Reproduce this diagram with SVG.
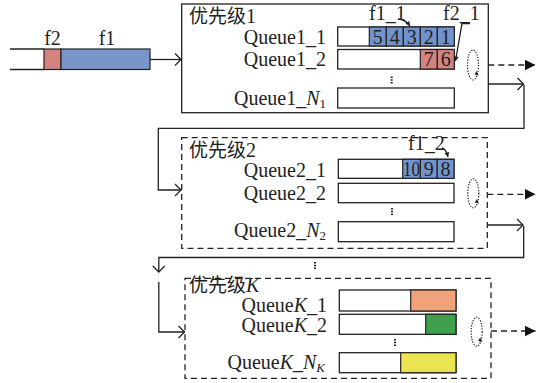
<svg xmlns="http://www.w3.org/2000/svg" width="536" height="383" viewBox="0 0 536 383">
<defs>
<style>
.ln{fill:none;stroke:#222;stroke-width:1.3}
.box{fill:#fff;stroke:#222;stroke-width:1.3}
.dbox{fill:none;stroke:#222;stroke-width:1.3;stroke-dasharray:6 4}
.dash{fill:none;stroke:#222;stroke-width:1.3;stroke-dasharray:6 4}
.dot{fill:none;stroke:#222;stroke-width:1.2;stroke-dasharray:1.3 1.4}
.vd{fill:none;stroke:#222;stroke-width:2;stroke-dasharray:1.5 1.3}
.t{font-family:'Liberation Serif','Times New Roman','DejaVu Serif',serif;font-size:20px;fill:#222}
.cn{font-family:'Noto Sans CJK SC',sans-serif;font-size:19px;fill:#222}
.num{font-family:'Liberation Serif','Times New Roman',serif;font-size:20px;fill:#222;text-anchor:middle}
.blue{fill:#7393cc;stroke:#222;stroke-width:1.2}
.red{fill:#d4837f;stroke:#222;stroke-width:1.2}
</style>
<marker id="open" markerUnits="userSpaceOnUse" markerWidth="12" markerHeight="14" viewBox="-7 -7 8 14" refX="0" refY="0" orient="auto">
<path d="M-6,-6 L0,0 L-6,6" fill="none" stroke="#222" stroke-width="1.3"/>
</marker>
<marker id="tri" markerUnits="userSpaceOnUse" markerWidth="12" markerHeight="12" viewBox="-11 -6 12 12" refX="0" refY="0" orient="auto">
<path d="M-11,-5.5 L0,0 L-11,5.5 Z" fill="#111"/>
</marker>
<marker id="sm" markerUnits="userSpaceOnUse" markerWidth="6" markerHeight="6" viewBox="-5 -3 6 6" refX="0" refY="0" orient="auto">
<path d="M-4.5,-2.5 L0,0 L-4.5,2.5 Z" fill="#222"/>
</marker>
</defs>

<g id="input">
<rect x="44" y="49" width="17" height="20.5" fill="#d4837f" stroke="#222" stroke-width="1.2"/>
<rect x="61" y="49" width="89" height="20.5" fill="#7896ca" stroke="#222" stroke-width="1.2"/>
<path class="ln" d="M10,49 H44 M10,69.5 H44"/>
<text class="t" x="52.5" y="45" text-anchor="middle">f2</text>
<text class="t" x="107" y="45" text-anchor="middle">f1</text>
</g>

<g id="priority1">
<rect class="box" x="181.7" y="4" width="306.6" height="108.7"/>
<text class="cn" x="189" y="23">优先级</text>
<text class="t" x="246" y="23">1</text>
<text class="t" x="326" y="44" text-anchor="end">Queue1_1</text>
<text class="t" x="326" y="66" text-anchor="end">Queue1_2</text>
<text class="t" x="326" y="105" text-anchor="end">Queue1_<tspan font-style="italic">N</tspan><tspan font-size="13" dy="3">1</tspan></text>
<rect class="box" x="337.7" y="27" width="116.6" height="19"/>
<rect class="blue" x="369.3" y="27" width="17" height="19"/>
<rect class="blue" x="386.3" y="27" width="17" height="19"/>
<rect class="blue" x="403.3" y="27" width="17" height="19"/>
<rect class="blue" x="420.3" y="27" width="17" height="19"/>
<rect class="blue" x="437.3" y="27" width="17" height="19"/>
<text class="num" x="377.8" y="43.5">5</text>
<text class="num" x="394.8" y="43.5">4</text>
<text class="num" x="411.8" y="43.5">3</text>
<text class="num" x="428.8" y="43.5">2</text>
<text class="num" x="445.8" y="43.5">1</text>
<rect class="box" x="337.7" y="49.5" width="116.6" height="19.5"/>
<rect class="red" x="420.3" y="49.5" width="17" height="19.5"/>
<rect class="red" x="437.3" y="49.5" width="17" height="19.5"/>
<text class="num" x="428.8" y="66">7</text>
<text class="num" x="445.8" y="66">6</text>
<line class="vd" x1="391.7" y1="76.5" x2="391.7" y2="84"/>
<rect class="box" x="337.7" y="88" width="116.6" height="20"/>
<text class="t" x="369" y="20">f1_1</text>
<text class="t" x="443" y="20">f2_1</text>
<path class="ln" d="M398,19 Q405,19 410,26" marker-end="url(#sm)"/>
<path class="ln" d="M470,23.5 H462 L455.5,61" marker-end="url(#sm)"/>
<ellipse class="dot" cx="473" cy="65" rx="5.5" ry="15"/>
<path d="M476.5,71 L478.8,75.5 L474.5,74.5 Z" fill="#222"/>
</g>

<g id="priority2">
<rect class="dbox" x="181.7" y="137.7" width="305.6" height="110.6"/>
<text class="cn" x="189" y="156.5">优先级</text>
<text class="t" x="246" y="156.5">2</text>
<text class="t" x="326" y="177" text-anchor="end">Queue2_1</text>
<text class="t" x="326" y="200" text-anchor="end">Queue2_2</text>
<text class="t" x="326" y="237" text-anchor="end">Queue2_<tspan font-style="italic">N</tspan><tspan font-size="13" dy="3">2</tspan></text>
<rect class="box" x="338.3" y="159.3" width="115.7" height="19"/>
<rect class="blue" x="402.7" y="159.3" width="17.7" height="19"/>
<rect class="blue" x="420.4" y="159.3" width="16.8" height="19"/>
<rect class="blue" x="437.2" y="159.3" width="16.8" height="19"/>
<text class="num" x="411.5" y="175.5" textLength="17" lengthAdjust="spacingAndGlyphs">10</text>
<text class="num" x="428.8" y="175.5">9</text>
<text class="num" x="445.6" y="175.5">8</text>
<rect class="box" x="338.3" y="183.3" width="115.7" height="19.4"/>
<line class="vd" x1="392" y1="208" x2="392" y2="215.5"/>
<rect class="box" x="338.3" y="221.7" width="115.7" height="20"/>
<text class="t" x="408" y="150">f1_2</text>
<path class="ln" d="M442,148 Q446,149 448,157" marker-end="url(#sm)"/>
<ellipse class="dot" cx="473.3" cy="193.3" rx="5.5" ry="14.5"/>
<path d="M476.8,199 L479,203.5 L474.8,202.5 Z" fill="#222"/>
</g>

<g id="priorityK">
<rect class="dbox" x="185" y="278.3" width="306" height="100"/>
<text class="cn" x="189" y="292">优先级</text>
<text class="t" x="246" y="292" font-style="italic">K</text>
<text class="t" x="327" y="311.5" text-anchor="end">Queue<tspan font-style="italic">K</tspan>_1</text>
<text class="t" x="327" y="332" text-anchor="end">Queue<tspan font-style="italic">K</tspan>_2</text>
<text class="t" x="325" y="369" text-anchor="end">Queue<tspan font-style="italic">K</tspan>_<tspan font-style="italic">N</tspan><tspan font-size="13" font-style="italic" dy="3">K</tspan></text>
<rect class="box" x="339.3" y="290" width="116.7" height="21"/>
<rect x="410.7" y="290" width="45.3" height="21" fill="#f0a27a" stroke="#222" stroke-width="1.2"/>
<rect class="box" x="339.3" y="314.3" width="116.7" height="20"/>
<rect x="425.7" y="314.3" width="30.3" height="20" fill="#3fa14b" stroke="#222" stroke-width="1.2"/>
<line class="vd" x1="395" y1="339" x2="395" y2="347"/>
<rect class="box" x="339.3" y="352.7" width="116.7" height="20"/>
<rect x="400.7" y="352.7" width="55.3" height="20" fill="#e9e44f" stroke="#222" stroke-width="1.2"/>
<ellipse class="dot" cx="476.7" cy="331.7" rx="5.5" ry="14.5"/>
<path d="M480.2,337.5 L482.4,342 L478.2,341 Z" fill="#222"/>
</g>

<g id="connectors">
<line class="ln" x1="150" y1="59.5" x2="181" y2="59.5" marker-end="url(#open)"/>
<line class="dash" x1="488.3" y1="65" x2="535.5" y2="65" marker-end="url(#tri)"/>
<line class="ln" x1="488.3" y1="84" x2="523.5" y2="84" marker-end="url(#open)"/>
<path class="ln" d="M524,85 V128.3 H158.3 V190 H181"/>
<path class="ln" d="M175,184 L181,190 L175,196"/>
<line class="dash" x1="487.3" y1="194.3" x2="535.5" y2="194.3" marker-end="url(#tri)"/>
<line class="ln" x1="487.3" y1="225" x2="523" y2="225" marker-end="url(#open)"/>
<path class="ln" d="M523.7,226 V257.5 H158.8 V272"/>
<path class="ln" d="M152.8,266 L158.8,272 L164.8,266"/>
<path class="ln" d="M158.8,282 V332 H184.5"/>
<path class="ln" d="M178.5,326 L184.5,332 L178.5,338"/>
<line class="vd" x1="315" y1="262" x2="315" y2="270"/>
<line class="dash" x1="491" y1="331" x2="535.5" y2="331" marker-end="url(#tri)"/>
</g>
</svg>
